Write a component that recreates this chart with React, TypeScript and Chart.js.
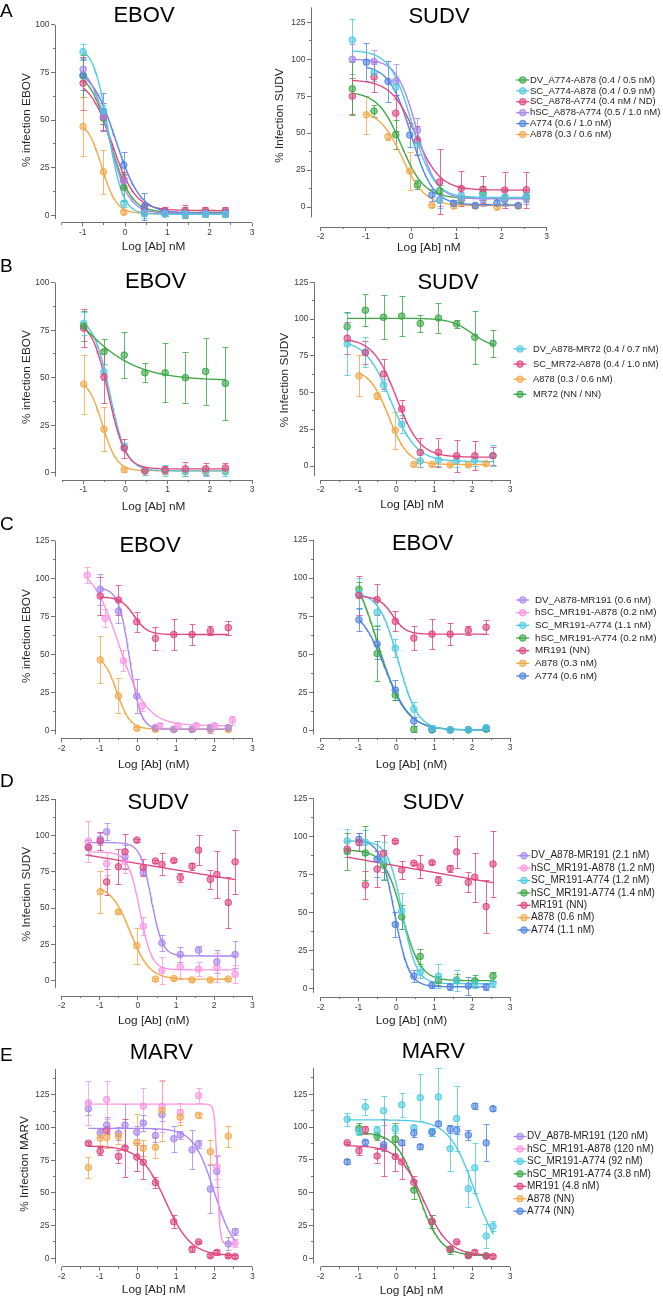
import React, { useEffect, useRef } from 'react';
import { Chart, registerables } from 'chart.js';

Chart.register(...registerables);

const FONT = '"Liberation Sans", Arial, Helvetica, sans-serif';
Chart.defaults.font.family = FONT;

const AXIS = '#707070';
const TEXT = '#1e1e1e';
const TICK_TEXT = '#3a3a3a';
const AXIS_TITLE_SIZE = 11.8;
const TICK_SIZE = 8.5;

const GREEN = '#3aa845';
const CYAN = '#4ecbe0';
const CRIMSON = '#e0457f';
const PURPLE = '#a986f0';
const BLUE = '#4f83e3';
const ORANGE = '#f2a94b';
const PINK = '#fb95e3';

// ---------- tick values ----------
const Y_MAJOR_100 = [0, 25, 50, 75, 100];
const Y_MINOR_100 = [12.5, 37.5, 62.5, 87.5];
const Y_MAJOR_125 = [0, 25, 50, 75, 100, 125];
const Y_MINOR_125 = [12.5, 37.5, 62.5, 87.5, 112.5];
const Y_MINOR_145 = [12.5, 37.5, 62.5, 87.5, 112.5, 137.5];
const X_MAJOR_A = [-1, 0, 1, 2, 3];
const X_MAJOR = [-2, -1, 0, 1, 2, 3];
const X_MINOR = [-1.5, -0.5, 0.5, 1.5, 2.5];

// ---------- concentrations (log10 nM) ----------
const X_EBOV = [-0.99, -0.51, -0.03, 0.46, 0.94, 1.42, 1.9, 2.37];
const X_SUDV = [-1.3, -0.82, -0.34, 0.14, 0.63, 1.11, 1.59, 2.07, 2.55];
const X_ALL = [-1.3, -0.99, -0.82, -0.51, -0.34, -0.03, 0.14, 0.46, 0.63, 0.94, 1.11, 1.42, 1.59, 1.9, 2.07, 2.37, 2.55];
const X_C_PINK = [-1.33, -0.86, -0.38, 0.1, 0.57, 1.05, 1.53, 2.01, 2.48];
const X_D_PURPLE = [-1.3, -0.99, -0.82, -0.34, 0.14, 0.63, 1.11, 1.59, 2.07, 2.55];
const X_E_PINK = [-1.3, -0.82, 0.14, 0.63, 1.11, 1.59, 2.07, 2.55];
const X_E_ORANGE = [-1.3, -0.99, -0.82, -0.51, -0.03, 0.14, 0.46, 0.63, 1.11, 1.59, 1.9, 2.37];
const X_E_MR191 = [-1.3, -0.99, -0.82, -0.51, -0.34, -0.03, 0.14, 0.46, 0.94, 1.42, 1.59, 1.9, 2.07, 2.37, 2.55];
const X_E_A774 = [-1.3, -0.82, -0.34, 0.14, 0.46, 0.63, 0.94, 1.11, 1.42, 1.59, 1.9, 2.07, 2.37, 2.55];

// ---------- Panel A, EBOV ----------
const A_EB_DV = [73.2, 51, 14.7, 2, 1.5, 1.5, 1.5, 1.5];
const A_EB_DV_E = [11, 3, 7, 2, 2, 3, 2, 2];
const A_EB_DV_FIT = [76, 1.5, -0.35, 1.8];
const A_EB_SC1 = [86, 55, 6.3, 0.8, 0.5, 0.5, 0.5, 0.5];
const A_EB_SC1_E = [4, 3, 2, 2, 1, 1, 1, 1];
const A_EB_SC1_FIT = [89, 0.5, -0.4, 2.5];
const A_EB_SC2 = [69.4, 51.8, 18.6, 3.7, 2.5, 2.5, 2.5, 2.5];
const A_EB_SC2_E = [14, 7, 4, 3, 2, 3, 2, 2];
const A_EB_SC2_FIT = [72, 2.5, -0.3, 1.6];
const A_EB_HSC = [76.7, 52, 18, 1.5, 1, 1, 1, 1];
const A_EB_HSC_E = [6, 4, 3, 2, 1, 1, 1, 1];
const A_EB_HSC_FIT = [80, 1, -0.38, 1.9];
const A_EB_A774 = [73.7, 54.5, 26.4, 4.5, 1.5, 1, 1, 1];
const A_EB_A774_E = [8, 10, 7, 7, 2, 2, 2, 2];
const A_EB_A774_FIT = [78, 1, -0.22, 1.5];
const A_EB_A878 = [46.6, 22.9, 1.6, 1, 0.8, 0.8, 0.8, 0.8];
const A_EB_A878_E = [15.5, 11.5, 1, 1, 1, 1, 1, 1];
const A_EB_A878_FIT = [50, 1, -0.55, 2.5];

// ---------- Panel A, SUDV ----------
const A_SU_DV = [80, 65, 49, 15, 11, 5, 9.5, 5, 7];
const A_SU_DV_E = [18, 4, 10, 3, 4, 3, 5, 3, 3];
const A_SU_DV_FIT = [78, 6, -0.22, 1.7];
const A_SU_SC1 = [113, 91, 81, 42, 4.5, 7.7, 7.7, 6.6, 7.5];
const A_SU_SC1_E = [14, 6, 5, 6, 5, 5, 4, 4, 4];
const A_SU_SC1_FIT = [106, 6.5, 0.02, 1.8];
const A_SU_SC2 = [75, 88, 63.5, 45, 17, 12.6, 12, 11.5, 11.7];
const A_SU_SC2_E = [12, 10, 12, 10, 22, 12, 9, 12, 12];
const A_SU_SC2_FIT = [86, 11.5, 0.1, 1.6];
const A_SU_HSC = [100, 98.5, 85, 52, 5, 6, 5, 5, 6];
const A_SU_HSC_E = [10, 8, 12, 8, 4, 4, 4, 4, 4];
const A_SU_HSC_FIT = [100, 5.5, 0.12, 2];
const A_SU_A774 = [98, 85, 48.7, 8.2, 2.6, 1.1, 2.9, 1.1];
const A_SU_A774_E = [13, 14, 8, 4, 2, 2, 2, 2];
const A_SU_A774_FIT = [96, 1.5, 0, 1.8];
const A_SU_A878 = [62.4, 47.6, 24.3, 1.1, 0.7, 0.7, 0, 0.7];
const A_SU_A878_E = [13, 2, 13, 1, 1, 1, 1, 1];
const A_SU_A878_FIT = [66, 1, -0.2, 1.7];

// ---------- Panel B ----------
const B_EB_DV = [78.6, 53, 13.7, 1, 1, 0.5, 0.5, 0.5];
const B_EB_DV_E = [6, 4, 2, 2, 3, 2, 2, 2];
const B_EB_DV_FIT = [82, 1, -0.37, 2.2];
const B_EB_SC = [76, 50.5, 13, 1, 1.5, 2, 2, 2.5];
const B_EB_SC_E = [10, 14, 5, 2, 2, 3.5, 3, 2.5];
const B_EB_SC_FIT = [80, 2, -0.4, 2.2];
const B_EB_MR72 = [77.2, 63.7, 61.9, 52.6, 52.6, 50, 53.3, 47];
const B_EB_MR72_E = [8, 6.5, 12, 5, 15.5, 13.5, 17.7, 19];
const B_EB_MR72_FIT = [120, 48.5, -1.3, 0.6];

const B_SU_DV = [83, 77.6, 55.1, 28.4, 3.4, 4, 3.6, 4, 7];
const B_SU_DV_E = [21, 10, 4, 6, 4, 4, 4, 4, 7];
const B_SU_DV_FIT = [86, 3, -0.15, 1.3];
const B_SU_SC = [87, 77.1, 62.6, 38.8, 9.3, 9.3, 7, 7, 7];
const B_SU_SC_E = [11, 8, 10, 6, 10, 10, 11, 10, 6];
const B_SU_SC_FIT = [87, 6, 0, 1.4];
const B_SU_A878 = [61.3, 47.7, 24.3, 1.1, 1, 0.7, 0.7, 1.5];
const B_SU_A878_E = [14, 2, 12.5, 1, 1, 1, 1, 1];
const B_SU_A878_FIT = [66, 1, -0.2, 1.7];
const B_SU_MR72 = [94.8, 106, 101.2, 102, 97, 100.7, 96.6, 87.6, 83.5];
const B_SU_MR72_E = [10, 11, 15, 13.6, 6, 10, 3, 18, 9];
const B_SU_MR72_FIT = [100.5, 80, 2.0, 1.5];

// ---------- Panel C (EBOV) ----------
const C_DV = [93, 78.7, 22.8, 2, 0.9, 0.9, 1.5, 2];
const C_DV_E = [10, 8, 11, 2, 1, 1, 3, 2];
const C_DV_FIT = [94, 1, -0.22, 3];
const C_HSC878 = [102.4, 73.9, 46, 16, 3.3, 3.3, 3.3, 3.3, 6.8];
const C_HSC878_E = [5, 6, 7, 3, 1.5, 1.5, 1.5, 1.5, 3];
const C_HSC878_FIT = [110, 3.3, -0.5, 1.2];
const C_SC774 = [90, 77.6, 54, 14, 1.5, 0.4, 0.5, 2];
const C_SC774_E = [10, 8, 6, 5, 2, 1, 1, 2];
const C_SC774_FIT = [91, 0.5, 0.05, 1.7];
const C_HSC774 = [92.7, 50.6, 23.4, 0.9, 0.5, 0.5, 0.5, 1];
const C_HSC774_E = [5, 18, 3, 2, 1, 1, 1, 1];
const C_HSC774_FIT = [115, 0.5, -0.5, 1.2];
const C_MR191 = [88.6, 86, 71.7, 60.7, 63.3, 63.3, 65.8, 67.8];
const C_MR191_E = [12.6, 10, 6.5, 7.7, 10, 7, 3, 4.6];
const C_MR191_FIT = [88, 63.3, -0.1, 2.5];
const C_A774 = [72.7, 56.9, 26.7, 6.3, 0.9, 0.5, 0.7, 1.5];
const C_A774_E = [7.6, 10, 6.5, 3, 1, 1, 1, 1];
const C_A774_FIT = [82, 0.5, -0.3, 1.3];

// ---------- Panel D (SUDV) ----------
const D_DV = [92, 97.5, 102.5, 85.5, 74.5, 26, 18, 21, 13, 18];
const D_DV_E = [5, 4, 6, 8, 2, 5.5, 5, 3, 8, 9.5];
const D_DV_FIT = [95, 17, 0.35, 3];
const D_HSC878 = [96, 80.5, 82, 37.5, 7, 9.5, 8, 9, 4.5];
const D_HSC878_E = [14, 8, 8, 6, 9, 8, 5, 10, 6];
const D_HSC878_FIT = [88.5, 7.5, 0.05, 2.8];
const D_SC774 = [97, 96, 84, 51, 10.5, 8, 5, 3, 3];
const D_SC774_E = [8, 8, 12, 12, 4, 8, 7, 3, 2];
const D_SC774_FIT = [97, 3, 0.15, 2.3];
const D_HSC774 = [90, 89, 81, 47, 21, 5, 5.5, 5, 8];
const D_HSC774_E = [12, 18, 10, 8, 5, 3, 4, 4, 3];
const D_HSC774_FIT = [91, 5, 0.15, 1.8];
const D_MR191 = [91.6, 96, 68, 78.4, 88.7, 96.7, 77.9, 82.3, 80, 82.7, 71, 78.8, 89.8, 69.7, 73.1, 53.8, 81.8];
const D_MR191_E = [5, 6, 9, 12, 12, 1, 6, 1, 7.6, 1, 3, 2.5, 10.5, 6.5, 16, 17.5, 22];
const D_MR191_FIT = [128, 28, 0.6, 0.0764];
const D_A878 = [61.2, 47.4, 24, 1.1, 1.5, 0.5, 0.5, 1.1];
const D_A878_E = [14.5, 1, 12.5, 1, 1, 1, 1, 1];
const D_A878_FIT = [66, 1, -0.2, 1.7];
const D_A774 = [98, 85, 42, 8, 2, 1, 1.5, 1];
const D_A774_E = [4, 12, 8, 4, 2, 2, 6, 2];
const D_A774_FIT = [98, 1, -0.05, 2.3];

// ---------- Panel E (MARV) ----------
const E_DV = [114.5, 96, 102, 95.5, 102, 96.5, 103.5, 94, 110, 91.5, 94.5, 83, 87.5, 53, 66.5, 11, 20.5];
const E_DV_E = [5, 3, 6, 5, 16, 5, 6, 5, 5, 10, 3, 15, 3, 18.5, 12, 5, 3];
const E_DV_FIT = [99.5, 2, 2.0, 1.6];
const E_HSC878 = [119, 121.5, 116.5, 116.5, 111.5, 124.5, 70, 11.5];
const E_HSC878_E = [17, 14.5, 14, 20, 7, 6, 9, 3];
const E_HSC878_FIT = [118, 11.2, 2.08, 12];
const E_SC774 = [106, 97, 115.5, 97.5, 112.5, 98.5, 117, 99.5, 122.5, 96.5, 123, 83.5, 106.5, 53, 69, 17, 24.5];
const E_SC774_E = [5, 3, 6, 3, 11, 3, 9, 2, 18, 3, 22, 17, 25, 14, 19, 9, 4];
const E_SC774_FIT = [105.5, 0, 2.05, 1.3];
const E_HSC774 = [99, 93, 91, 52, 28, 6.4, 2.5, 1.8];
const E_HSC774_E = [4, 3, 12, 7, 5, 3, 1, 1];
const E_HSC774_FIT = [96, 2, 0.58, 1.5];
const E_MR191 = [88, 82, 98, 78, 84.5, 77.5, 73.5, 58, 28, 7, 12.5, 2, 4.5, 1.8, 1.3];
const E_MR191_E = [1, 3, 3, 5, 22, 11, 13, 4.5, 5, 2, 1, 1, 2, 1, 1];
const E_MR191_FIT = [86, 2, 0.72, 1.3];
const E_A878 = [69.5, 92, 92.5, 93.5, 88.5, 84.2, 85, 113, 108, 109.5, 81.5, 93.5];
const E_A878_E = [8, 5, 8, 6, 22, 6, 8, 23, 6, 2, 9, 8];
const E_A774 = [73.5, 88.5, 86.5, 88, 95.5, 85, 96, 102.5, 98.5, 97.5, 94, 116, 88, 114];
const E_A774_E = [2, 2, 5, 2, 3, 2, 3, 2, 3, 3, 4, 2, 14, 2];

// ---------- legends ----------
const LEG_A = ['DV_A774-A878 (0.4 / 0.5 nM)', 'SC_A774-A878 (0.4 / 0.9 nM)', 'SC_A878-A774 (0.4 nM / ND)', 'hSC_A878-A774 (0.5 / 1.0 nM)', 'A774 (0.6 / 1.0 nM)', 'A878 (0.3 / 0.6 nM)'];
const LEG_A_COLORS = [GREEN, CYAN, CRIMSON, PURPLE, BLUE, ORANGE];
const LEG_B = ['DV_A878-MR72 (0.4 / 0.7 nM)', 'SC_MR72-A878 (0.4 / 1.0 nM)', 'A878 (0.3 / 0.6 nM)', 'MR72 (NN / NN)'];
const LEG_B_COLORS = [CYAN, CRIMSON, ORANGE, GREEN];
const LEG_C = ['DV_A878-MR191 (0.6 nM)', 'hSC_MR191-A878 (0.2 nM)', 'SC_MR191-A774 (1.1 nM)', 'hSC_MR191-A774 (0.2 nM)', 'MR191 (NN)', 'A878 (0.3 nM)', 'A774 (0.6 nM)'];
const LEG_D = ['DV_A878-MR191 (2.1 nM)', 'hSC_MR191-A878 (1.2 nM)', 'SC_MR191-A774 (1.2 nM)', 'hSC_MR191-A774 (1.4 nM)', 'MR191 (NN)', 'A878 (0.6 nM)', 'A774 (1.1 nM)'];
const LEG_E = ['DV_A878-MR191 (120 nM)', 'hSC_MR191-A878 (120 nM)', 'SC_MR191-A774 (92 nM)', 'hSC_MR191-A774 (3.8 nM)', 'MR191 (4.8 nM)', 'A878 (NN)', 'A774 (NN)'];
const LEG_CDE_COLORS = [PURPLE, PINK, CYAN, GREEN, CRIMSON, ORANGE, BLUE];

// ---------- helpers ----------
function rgba(hex: string, a: number) {
  const n = parseInt(hex.slice(1), 16);
  return `rgba(${(n >> 16) & 255},${(n >> 8) & 255},${n & 255},${a})`;
}
const fourPL = (x: number, f: number[]) => f[1] + (f[0] - f[1]) / (1 + Math.pow(10, (x - f[2]) * f[3]));

type Series = { color: string; x: number[]; y: number[]; err: number[]; fit?: number[] };
const S = (color: string, x: number[], y: number[], err: number[], fit?: number[]): Series => ({ color, x, y, err, fit });

type Panel = {
  canvas: { x: number; y: number; w: number; h: number };
  area: { l: number; r: number; t: number; b: number };
  xa: number[]; ya: number[];
  yLine: number[]; xLine: number[];
  yMajor: number[]; yMinor: number[]; xMajor: number[]; xMinor: number[];
  yTitle?: { text: string; x: number };
  xTitle: { text: string; y: number };
  texts: { text: string; x: number; y: number; size: number; align: CanvasTextAlign }[];
  series: Series[];
  legend?: { labels: string[]; colors: string[]; mx: number; tx: number; y0: number; dy: number; size: number };
};

const LEFT_C = (y: number, h: number) => ({ x: 0, y, w: 276, h });
const RIGHT_C = (y: number, h: number) => ({ x: 268, y, w: 395, h });

const PANELS: Panel[] = [
  {
    canvas: LEFT_C(0, 258), area: { l: 55, r: 252, t: 17.5, b: 222.5 },
    xa: [-1, 82.7, 3, 252], ya: [0, 215.3, 100, 25],
    yLine: [-2, 100], xLine: [-1.5, 3], yMajor: Y_MAJOR_100, yMinor: Y_MINOR_100, xMajor: X_MAJOR_A, xMinor: X_MINOR,
    yTitle: { text: '% infection EBOV', x: 27 }, xTitle: { text: 'Log [Ab] nM', y: 247 },
    texts: [{ text: 'A', x: 0, y: 11.7, size: 19, align: 'left' }, { text: 'EBOV', x: 144, y: 16, size: 22, align: 'center' }],
    series: [
      S(CYAN, X_EBOV, A_EB_SC1, A_EB_SC1_E, A_EB_SC1_FIT),
      S(PURPLE, X_EBOV, A_EB_HSC, A_EB_HSC_E, A_EB_HSC_FIT),
      S(BLUE, X_EBOV, A_EB_A774, A_EB_A774_E, A_EB_A774_FIT),
      S(CRIMSON, X_EBOV, A_EB_SC2, A_EB_SC2_E, A_EB_SC2_FIT),
      S(GREEN, X_EBOV, A_EB_DV, A_EB_DV_E, A_EB_DV_FIT),
      S(ORANGE, X_EBOV, A_EB_A878, A_EB_A878_E, A_EB_A878_FIT),
    ],
  },
  {
    canvas: RIGHT_C(0, 258), area: { l: 311, r: 546.7, t: 0, b: 227 },
    xa: [-2, 320.7, 3, 546.7], ya: [0, 206.7, 125, 18.3],
    yLine: [-7, 135], xLine: [-2, 3], yMajor: Y_MAJOR_125, yMinor: Y_MINOR_125, xMajor: X_MAJOR, xMinor: X_MINOR,
    yTitle: { text: '% Infection SUDV', x: 280 }, xTitle: { text: 'Log [Ab] nM', y: 248 },
    texts: [{ text: 'SUDV', x: 439, y: 17, size: 22, align: 'center' }],
    series: [
      S(CYAN, X_SUDV, A_SU_SC1, A_SU_SC1_E, A_SU_SC1_FIT),
      S(PURPLE, X_SUDV, A_SU_HSC, A_SU_HSC_E, A_SU_HSC_FIT),
      S(CRIMSON, X_SUDV, A_SU_SC2, A_SU_SC2_E, A_SU_SC2_FIT),
      S(BLUE, X_EBOV, A_SU_A774, A_SU_A774_E, A_SU_A774_FIT),
      S(GREEN, X_SUDV, A_SU_DV, A_SU_DV_E, A_SU_DV_FIT),
      S(ORANGE, X_EBOV, A_SU_A878, A_SU_A878_E, A_SU_A878_FIT),
    ],
    legend: { labels: LEG_A, colors: LEG_A_COLORS, mx: 522.7, tx: 530, y0: 80, dy: 10.9, size: 9.5 },
  },
  {
    canvas: LEFT_C(255, 260), area: { l: 55, r: 252, t: 274, b: 480 },
    xa: [-1, 83.3, 3, 252], ya: [0, 472.7, 100, 282.7],
    yLine: [-2, 100], xLine: [-1.5, 3], yMajor: Y_MAJOR_100, yMinor: Y_MINOR_100, xMajor: X_MAJOR_A, xMinor: X_MINOR,
    yTitle: { text: '% infection EBOV', x: 27 }, xTitle: { text: 'Log [Ab] nM', y: 506.5 },
    texts: [{ text: 'B', x: 0, y: 266.7, size: 19, align: 'left' }, { text: 'EBOV', x: 155.5, y: 282.3, size: 22, align: 'center' }],
    series: [
      S(GREEN, X_EBOV, B_EB_MR72, B_EB_MR72_E, B_EB_MR72_FIT),
      S(CRIMSON, X_EBOV, B_EB_SC, B_EB_SC_E, B_EB_SC_FIT),
      S(CYAN, X_EBOV, B_EB_DV, B_EB_DV_E, B_EB_DV_FIT),
      S(ORANGE, X_EBOV, A_EB_A878, A_EB_A878_E, A_EB_A878_FIT),
    ],
  },
  {
    canvas: RIGHT_C(255, 260), area: { l: 314, r: 510, t: 280, b: 480 },
    xa: [-2, 320.7, 3, 510], ya: [0, 466, 125, 282.3],
    yLine: [-7, 125], xLine: [-2, 3], yMajor: Y_MAJOR_125, yMinor: Y_MINOR_125, xMajor: X_MAJOR, xMinor: X_MINOR,
    yTitle: { text: '% Infection SUDV', x: 285 }, xTitle: { text: 'Log [Ab] nM', y: 505 },
    texts: [{ text: 'SUDV', x: 448, y: 283.3, size: 22, align: 'center' }],
    series: [
      S(GREEN, X_SUDV, B_SU_MR72, B_SU_MR72_E, B_SU_MR72_FIT),
      S(CRIMSON, X_SUDV, B_SU_SC, B_SU_SC_E, B_SU_SC_FIT),
      S(CYAN, X_SUDV, B_SU_DV, B_SU_DV_E, B_SU_DV_FIT),
      S(ORANGE, X_EBOV, B_SU_A878, B_SU_A878_E, B_SU_A878_FIT),
    ],
    legend: { labels: LEG_B, colors: LEG_B_COLORS, mx: 520, tx: 533, y0: 349, dy: 15.1, size: 9.3 },
  },
  {
    canvas: LEFT_C(512, 262), area: { l: 55, r: 252.3, t: 533.7, b: 738.3 },
    xa: [-2, 61.7, 3, 252.3], ya: [0, 730.7, 125, 540.7],
    yLine: [-2.5, 125], xLine: [-2, 3], yMajor: Y_MAJOR_125, yMinor: Y_MINOR_125, xMajor: X_MAJOR, xMinor: X_MINOR,
    yTitle: { text: '% infection EBOV', x: 27 }, xTitle: { text: 'Log [Ab] (nM)', y: 765 },
    texts: [{ text: 'C', x: 0, y: 525, size: 19, align: 'left' }, { text: 'EBOV', x: 150, y: 545.7, size: 22, align: 'center' }],
    series: [
      S(CRIMSON, X_EBOV, C_MR191, C_MR191_E, C_MR191_FIT),
      S(PINK, X_C_PINK, C_HSC878, C_HSC878_E, C_HSC878_FIT),
      S(PURPLE, X_EBOV, C_DV, C_DV_E, C_DV_FIT),
      S(ORANGE, X_EBOV, A_EB_A878, A_EB_A878_E, A_EB_A878_FIT),
    ],
  },
  {
    canvas: RIGHT_C(512, 262), area: { l: 313, r: 510, t: 530, b: 738 },
    xa: [-2, 320.7, 3, 510], ya: [0, 730.7, 125, 540],
    yLine: [-2.5, 125], xLine: [-2, 3], yMajor: Y_MAJOR_125, yMinor: Y_MINOR_125, xMajor: X_MAJOR, xMinor: X_MINOR,
    xTitle: { text: 'Log [Ab] (nM)', y: 765 },
    texts: [{ text: 'EBOV', x: 422.5, y: 544.3, size: 22, align: 'center' }],
    series: [
      S(CRIMSON, X_EBOV, C_MR191, C_MR191_E, C_MR191_FIT),
      S(CYAN, X_EBOV, C_SC774, C_SC774_E, C_SC774_FIT),
      S(BLUE, X_EBOV, C_A774, C_A774_E, C_A774_FIT),
      S(GREEN, X_EBOV, C_HSC774, C_HSC774_E, C_HSC774_FIT),
    ],
    legend: { labels: LEG_C, colors: LEG_CDE_COLORS, mx: 522.7, tx: 535, y0: 600, dy: 12.67, size: 9.8 },
  },
  {
    canvas: LEFT_C(772, 262), area: { l: 55, r: 252.3, t: 792, b: 996 },
    xa: [-2, 61.7, 3, 252.3], ya: [0, 980.7, 125, 799],
    yLine: [-5, 125], xLine: [-2, 3], yMajor: Y_MAJOR_125, yMinor: Y_MINOR_125, xMajor: X_MAJOR, xMinor: X_MINOR,
    yTitle: { text: '% Infection SUDV', x: 27 }, xTitle: { text: 'Log [Ab] (nM)', y: 1021 },
    texts: [{ text: 'D', x: 0, y: 781.7, size: 19, align: 'left' }, { text: 'SUDV', x: 158, y: 802.7, size: 22, align: 'center' }],
    series: [
      S(CRIMSON, X_ALL, D_MR191, D_MR191_E, D_MR191_FIT),
      S(PURPLE, X_D_PURPLE, D_DV, D_DV_E, D_DV_FIT),
      S(PINK, X_SUDV, D_HSC878, D_HSC878_E, D_HSC878_FIT),
      S(ORANGE, X_EBOV, D_A878, D_A878_E, D_A878_FIT),
    ],
  },
  {
    canvas: RIGHT_C(772, 262), area: { l: 313, r: 510, t: 790, b: 997.3 },
    xa: [-2, 320.7, 3, 510], ya: [0, 988.3, 125, 798.3],
    yLine: [-3, 125], xLine: [-2, 3], yMajor: Y_MAJOR_125, yMinor: Y_MINOR_125, xMajor: X_MAJOR, xMinor: X_MINOR,
    xTitle: { text: 'Log [Ab] (nM)', y: 1021 },
    texts: [{ text: 'SUDV', x: 433.3, y: 803.3, size: 22, align: 'center' }],
    series: [
      S(CRIMSON, X_ALL, D_MR191, D_MR191_E, D_MR191_FIT),
      S(BLUE, X_EBOV, D_A774, D_A774_E, D_A774_FIT),
      S(CYAN, X_SUDV, D_SC774, D_SC774_E, D_SC774_FIT),
      S(GREEN, X_SUDV, D_HSC774, D_HSC774_E, D_HSC774_FIT),
    ],
    legend: { labels: LEG_D, colors: LEG_CDE_COLORS, mx: 524, tx: 531, y0: 855.7, dy: 12.4, size: 10 },
  },
  {
    canvas: LEFT_C(1032, 267), area: { l: 55, r: 252.3, t: 1061.3, b: 1266.7 },
    xa: [-2, 61.7, 3, 252.3], ya: [0, 1258.3, 125, 1095],
    yLine: [-4, 145], xLine: [-2, 3], yMajor: Y_MAJOR_125, yMinor: Y_MINOR_145, xMajor: X_MAJOR, xMinor: X_MINOR,
    yTitle: { text: '% Infection MARV', x: 25 }, xTitle: { text: 'Log [Ab] nM', y: 1289.5 },
    texts: [{ text: 'E', x: 0, y: 1055.7, size: 19, align: 'left' }, { text: 'MARV', x: 161.3, y: 1053.3, size: 22, align: 'center' }],
    series: [
      S(ORANGE, X_E_ORANGE, E_A878, E_A878_E),
      S(PINK, X_E_PINK, E_HSC878, E_HSC878_E, E_HSC878_FIT),
      S(PURPLE, X_ALL, E_DV, E_DV_E, E_DV_FIT),
      S(CRIMSON, X_E_MR191, E_MR191, E_MR191_E, E_MR191_FIT),
    ],
  },
  {
    canvas: RIGHT_C(1032, 267), area: { l: 313, r: 510, t: 1060, b: 1266.7 },
    xa: [-2, 320.7, 3, 510], ya: [0, 1258.3, 125, 1094.3],
    yLine: [-4, 145], xLine: [-2, 3], yMajor: Y_MAJOR_125, yMinor: Y_MINOR_145, xMajor: X_MAJOR, xMinor: X_MINOR,
    xTitle: { text: 'Log [Ab] nM', y: 1290.5 },
    texts: [{ text: 'MARV', x: 433.3, y: 1052.3, size: 22, align: 'center' }],
    series: [
      S(BLUE, X_E_A774, E_A774, E_A774_E),
      S(CYAN, X_ALL, E_SC774, E_SC774_E, E_SC774_FIT),
      S(CRIMSON, X_E_MR191, E_MR191, E_MR191_E, E_MR191_FIT),
      S(GREEN, X_EBOV, E_HSC774, E_HSC774_E, E_HSC774_FIT),
    ],
    legend: { labels: LEG_E, colors: LEG_CDE_COLORS, mx: 520, tx: 527, y0: 1136.5, dy: 12.45, size: 10 },
  },
];

const errorBarPlugin = {
  id: 'errorBars',
  beforeDatasetsDraw(chart: any) {
    const { ctx } = chart;
    const xs = chart.scales.x, ys = chart.scales.y;
    ctx.save();
    ctx.lineWidth = 1;
    chart.data.datasets.forEach((ds: any) => {
      if (!ds.errors) return;
      ctx.strokeStyle = ds.barColor;
      ds.data.forEach((pt: any, i: number) => {
        const e = ds.errors[i];
        if (!e) return;
        const px = Math.round(xs.getPixelForValue(pt.x)) + 0.5;
        const yt = Math.round(ys.getPixelForValue(pt.y + e)) + 0.5;
        const yb = Math.round(ys.getPixelForValue(pt.y - e)) + 0.5;
        ctx.beginPath();
        ctx.moveTo(px, yt); ctx.lineTo(px, yb);
        ctx.moveTo(px - 3, yt); ctx.lineTo(px + 3, yt);
        ctx.moveTo(px - 3, yb); ctx.lineTo(px + 3, yb);
        ctx.stroke();
      });
    });
    ctx.restore();
  },
};

function buildConfig(p: Panel): any {
  const cx = p.canvas.x, cy = p.canvas.y;
  const L = p.area.l - cx, R = p.area.r - cx, T = p.area.t - cy, B = p.area.b - cy;
  const xPerPx = (p.xa[2] - p.xa[0]) / (p.xa[3] - p.xa[1]);
  const xmin = p.xa[0] + (p.area.l - p.xa[1]) * xPerPx;
  const xmax = p.xa[0] + (p.area.r - p.xa[1]) * xPerPx;
  const yPerPx = (p.ya[2] - p.ya[0]) / (p.ya[3] - p.ya[1]);
  const ymin = p.ya[0] + (p.area.b - p.ya[1]) * yPerPx;
  const ymax = p.ya[0] + (p.area.t - p.ya[1]) * yPerPx;
  const lh = AXIS_TITLE_SIZE * 1.2;
  const padL = p.yTitle ? p.yTitle.x - cx - lh / 2 : 0;
  const yW = L - padL;
  const xH = p.xTitle.y - p.area.b + lh / 2;
  const padB = Math.max(0, p.canvas.h - B - xH);
  const padR = p.canvas.w - R;

  const datasets: any[] = [];
  for (const s of p.series) {
    if (s.fit) {
      const x0 = Math.min(...s.x), x1 = Math.max(...s.x);
      const pts: { x: number; y: number }[] = [];
      const N = 300;
      for (let i = 0; i <= N; i++) {
        const x = x0 + ((x1 - x0) * i) / N;
        pts.push({ x, y: fourPL(x, s.fit) });
      }
      datasets.push({
        type: 'scatter', showLine: true, data: pts, borderColor: s.color, borderWidth: 1.3,
        pointRadius: 0, pointHoverRadius: 0, fill: false, order: 2, clip: false,
      });
    }
    datasets.push({
      type: 'scatter', data: s.x.map((x, i) => ({ x, y: s.y[i] })), errors: s.err,
      barColor: rgba(s.color, 0.8), backgroundColor: rgba(s.color, 0.6), borderColor: rgba(s.color, 0.95),
      borderWidth: 1, pointRadius: 3.3, pointHoverRadius: 3.3, order: 1, clip: false,
    });
  }

  const xAll = [...p.xMajor, ...p.xMinor].sort((a, b) => a - b);
  const yAll = [...p.yMajor, ...p.yMinor].sort((a, b) => a - b);

  const decorPlugin = {
    id: 'decor',
    afterDraw(chart: any) {
      const { ctx, chartArea } = chart;
      const xs = chart.scales.x, ys = chart.scales.y;
      ctx.save();
      ctx.strokeStyle = AXIS;
      ctx.lineWidth = 1;
      const ax = Math.round(chartArea.left - 0.5) + 0.5;
      const ay = Math.round(chartArea.bottom - 0.5) + 0.5;
      ctx.beginPath();
      ctx.moveTo(ax, ys.getPixelForValue(p.yLine[1]));
      ctx.lineTo(ax, ys.getPixelForValue(p.yLine[0]));
      ctx.moveTo(xs.getPixelForValue(p.xLine[0]), ay);
      ctx.lineTo(xs.getPixelForValue(p.xLine[1]), ay);
      ctx.stroke();
      ctx.fillStyle = '#000';
      ctx.textBaseline = 'middle';
      for (const t of p.texts) {
        ctx.font = `${t.size}px ${FONT}`;
        ctx.textAlign = t.align;
        ctx.fillText(t.text, t.x - cx, t.y - cy);
      }
      if (p.legend) {
        const lg = p.legend;
        ctx.font = `${lg.size}px ${FONT}`;
        ctx.textAlign = 'left';
        lg.labels.forEach((label, i) => {
          const color = lg.colors[i];
          const yy = lg.y0 + i * lg.dy - cy;
          const mx = lg.mx - cx;
          ctx.strokeStyle = color;
          ctx.lineWidth = 1.3;
          ctx.beginPath();
          ctx.moveTo(mx - 6.5, yy); ctx.lineTo(mx + 6.5, yy);
          ctx.stroke();
          ctx.beginPath();
          ctx.arc(mx, yy, 3.3, 0, Math.PI * 2);
          ctx.fillStyle = rgba(color, 0.6);
          ctx.fill();
          ctx.strokeStyle = rgba(color, 0.95);
          ctx.lineWidth = 1;
          ctx.stroke();
          ctx.fillStyle = TEXT;
          ctx.fillText(label, lg.tx - cx, yy);
        });
      }
      ctx.restore();
    },
  };

  return {
    type: 'scatter',
    data: { datasets },
    options: {
      animation: false,
      responsive: false,
      maintainAspectRatio: false,
      devicePixelRatio: 1,
      events: [],
      layout: { padding: { left: padL, right: padR, top: T, bottom: padB } },
      plugins: { legend: { display: false }, tooltip: { enabled: false }, title: { display: false } },
      scales: {
        x: {
          type: 'linear', position: 'bottom', min: xmin, max: xmax,
          afterBuildTicks: (axis: any) => { axis.ticks = xAll.map((v) => ({ value: v })); },
          afterFit: (axis: any) => {
            axis.height = xH;
            axis.paddingLeft = 0; axis.paddingRight = 0; axis.paddingTop = 0; axis.paddingBottom = 0;
          },
          ticks: {
            autoSkip: false, maxRotation: 0, minRotation: 0, padding: 1, color: TICK_TEXT,
            font: { family: FONT, size: TICK_SIZE },
            callback: (v: number) => (p.xMajor.includes(v) ? String(v) : ''),
          },
          grid: {
            display: true, drawOnChartArea: false, drawTicks: true, tickLength: 4, tickColor: AXIS, tickWidth: 1,
            tickBorderDash: (c: any) => (c.tick && p.xMinor.includes(c.tick.value) ? [2, 20] : []),
          },
          border: { display: false },
          title: { display: true, text: p.xTitle.text, color: TEXT, padding: 0, font: { family: FONT, size: AXIS_TITLE_SIZE } },
        },
        y: {
          type: 'linear', position: 'left', min: ymin, max: ymax,
          afterBuildTicks: (axis: any) => { axis.ticks = yAll.map((v) => ({ value: v })); },
          afterFit: (axis: any) => {
            axis.width = yW;
            axis.paddingLeft = 0; axis.paddingRight = 0; axis.paddingTop = 0; axis.paddingBottom = 0;
          },
          ticks: {
            autoSkip: false, padding: 1.5, color: TICK_TEXT,
            font: { family: FONT, size: TICK_SIZE },
            callback: (v: number) => (p.yMajor.includes(v) ? String(v) : ''),
          },
          grid: {
            display: true, drawOnChartArea: false, drawTicks: true, tickLength: 4, tickColor: AXIS, tickWidth: 1,
            tickBorderDash: (c: any) => (c.tick && p.yMinor.includes(c.tick.value) ? [0, 2, 2, 20] : []),
          },
          border: { display: false },
          title: p.yTitle
            ? { display: true, text: p.yTitle.text, color: TEXT, padding: 0, font: { family: FONT, size: AXIS_TITLE_SIZE } }
            : { display: false },
        },
      },
    },
    plugins: [errorBarPlugin, decorPlugin],
  };
}

function PanelChart({ spec }: { spec: Panel }) {
  const ref = useRef<HTMLCanvasElement>(null);
  useEffect(() => {
    if (!ref.current) return;
    const chart = new Chart(ref.current, buildConfig(spec));
    return () => chart.destroy();
  }, [spec]);
  return (
    <canvas
      ref={ref}
      width={spec.canvas.w}
      height={spec.canvas.h}
      style={{ position: 'absolute', left: spec.canvas.x, top: spec.canvas.y, width: spec.canvas.w, height: spec.canvas.h }}
    />
  );
}

export default function App() {
  return (
    <div style={{ position: 'absolute', left: 0, top: 0, width: 663, height: 1299, background: '#fff', overflow: 'hidden' }}>
      {PANELS.map((p, i) => (
        <PanelChart key={i} spec={p} />
      ))}
    </div>
  );
}
